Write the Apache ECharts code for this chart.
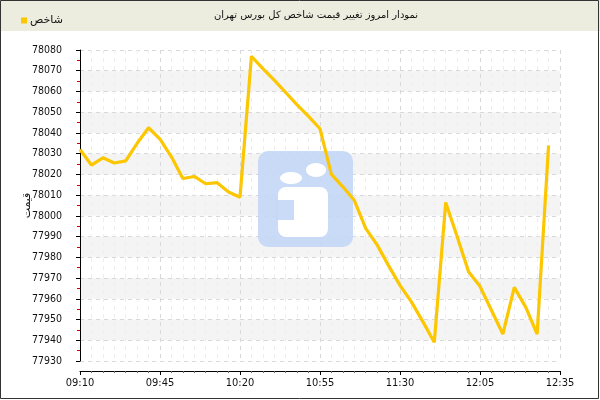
<!DOCTYPE html>
<html><head><meta charset="utf-8">
<script src="https://cdn.jsdelivr.net/npm/echarts@6/dist/echarts.min.js"></script>
<style>html,body{margin:0;padding:0;background:#fff}#c{width:600px;height:400px}</style>
</head><body><div id="c"></div>
<script>
var chartTitle = 'نمودار امروز تغییر قیمت شاخص کل بورس تهران';
var seriesName = 'شاخص';
var yName = 'قیمت';
var times = ['09:10','09:15','09:20','09:25','09:30','09:35','09:40','09:45','09:50','09:55',
  '10:00','10:05','10:10','10:15','10:20','10:25','10:30','10:35','10:40','10:45',
  '10:50','10:55','11:00','11:05','11:10','11:15','11:20','11:25','11:30','11:35',
  '11:40','11:45','11:50','11:55','12:00','12:05','12:10','12:15','12:20','12:25',
  '12:30','12:35'];
var values = [78032,78024.5,78028,78025.5,78026.5,78035,78042.5,78037,78028.5,78018,
  78019,78015.5,78016,78011.5,78009,78077,78071,78065.5,78059.5,78053.5,
  78048,78042,78020,78014,78007.5,77994,77986,77976,77966.5,77958.5,
  77949,77939,78006.5,77990,77973,77966,77954.5,77943,77965.5,77956,
  77943,78034];
var xTickLabels = ['09:10','09:45','10:20','10:55','11:30','12:05','12:35'];

function toMin(t){var p=t.split(':');return (+p[0])*60+(+p[1]) - (9*60+10);}
var data = times.map(function(t,i){return [toMin(t), values[i]];});

var chart = echarts.init(document.getElementById('c'));
var font = "'DejaVu Sans Condensed','DejaVu Sans',sans-serif";
var wm = '#c4d7f6';
chart.setOption({
  animation:false,
  backgroundColor:'#fff',
  textStyle:{fontFamily:font},
  graphic:[
    {type:'rect',shape:{x:0,y:0,width:600,height:31},style:{fill:'#ececdf'},z:-10,silent:true},
    {type:'rect',shape:{x:0.5,y:0.5,width:598,height:398},style:{fill:null,stroke:'#333',lineWidth:1},z:100,silent:true},
    {type:'text',x:316,y:10,style:{text:chartTitle,align:'center',font:"10px 'DejaVu Sans',sans-serif",fill:'#111'},z:10},
    {type:'group',z:1,children:[
      {type:'rect',shape:{x:258,y:151,width:95,height:96,r:10},style:{fill:wm,opacity:0.9},z:1},
      {type:'ellipse',shape:{cx:291,cy:178,rx:11,ry:6},style:{fill:'#fff'},z:1},
      {type:'ellipse',shape:{cx:316,cy:170,rx:10,ry:7},style:{fill:'#fff'},z:1},
      {type:'rect',shape:{x:278,y:187,width:50,height:50,r:[8,8,8,8]},style:{fill:'#fff'},z:1},
      {type:'rect',shape:{x:276,y:200,width:18,height:20},style:{fill:wm,opacity:0.9},z:1}
    ]}
  ],
  legend:{left:16,top:10,itemWidth:6,itemHeight:6,icon:'rect',itemGap:4,
    textStyle:{fontSize:11,fontFamily:"'DejaVu Sans',sans-serif",color:'#111',padding:[0,0,0,-2]},
    data:[seriesName]},
  grid:{left:80,right:40,top:50,bottom:39},
  xAxis:{type:'value',min:0,max:210,interval:35,offset:10,
    axisLine:{lineStyle:{color:'#000'}},
    axisTick:{length:4,lineStyle:{color:'#000'}},
    minorTick:{show:true,splitNumber:7,length:2,lineStyle:{color:'#666'}},
    axisLabel:{fontSize:11,color:'#111',margin:7,showMinLabel:true,showMaxLabel:true,formatter:function(v){return xTickLabels[Math.round(v/35)];}},
    splitLine:{show:true,lineStyle:{color:'#d8d8d8',type:[4,4]}},
    minorSplitLine:{show:true,lineStyle:{color:'#eeeeee',type:[4,4]}}
  },
  yAxis:{type:'value',min:77930,max:78080,interval:10,offset:10,
    name:yName,nameLocation:'middle',nameGap:37,nameRotate:90,nameMoveOverlap:false,
    nameTextStyle:{fontSize:11,fontFamily:"'DejaVu Sans',sans-serif",color:'#111'},
    axisLine:{show:true,lineStyle:{color:'#000'}},
    axisTick:{show:true,length:4,lineStyle:{color:'#000'}},
    minorTick:{show:true,splitNumber:2,length:3,lineStyle:{color:'#cc0000'}},
    axisLabel:{fontSize:10.5,color:'#111',margin:8,showMinLabel:true,showMaxLabel:true,formatter:function(v){return String(v);}},
    splitLine:{show:true,lineStyle:{color:'#d8d8d8',type:[4,4]}},
    splitArea:{show:true,areaStyle:{color:['rgba(255,255,255,0)','#f4f4f4']}}
  },
  series:[{name:seriesName,type:'line',data:data,symbol:'none',z:5,
    lineStyle:{color:'#fcc600',width:3.2},itemStyle:{color:'#fcc600'}}]
});
</script></body></html>
